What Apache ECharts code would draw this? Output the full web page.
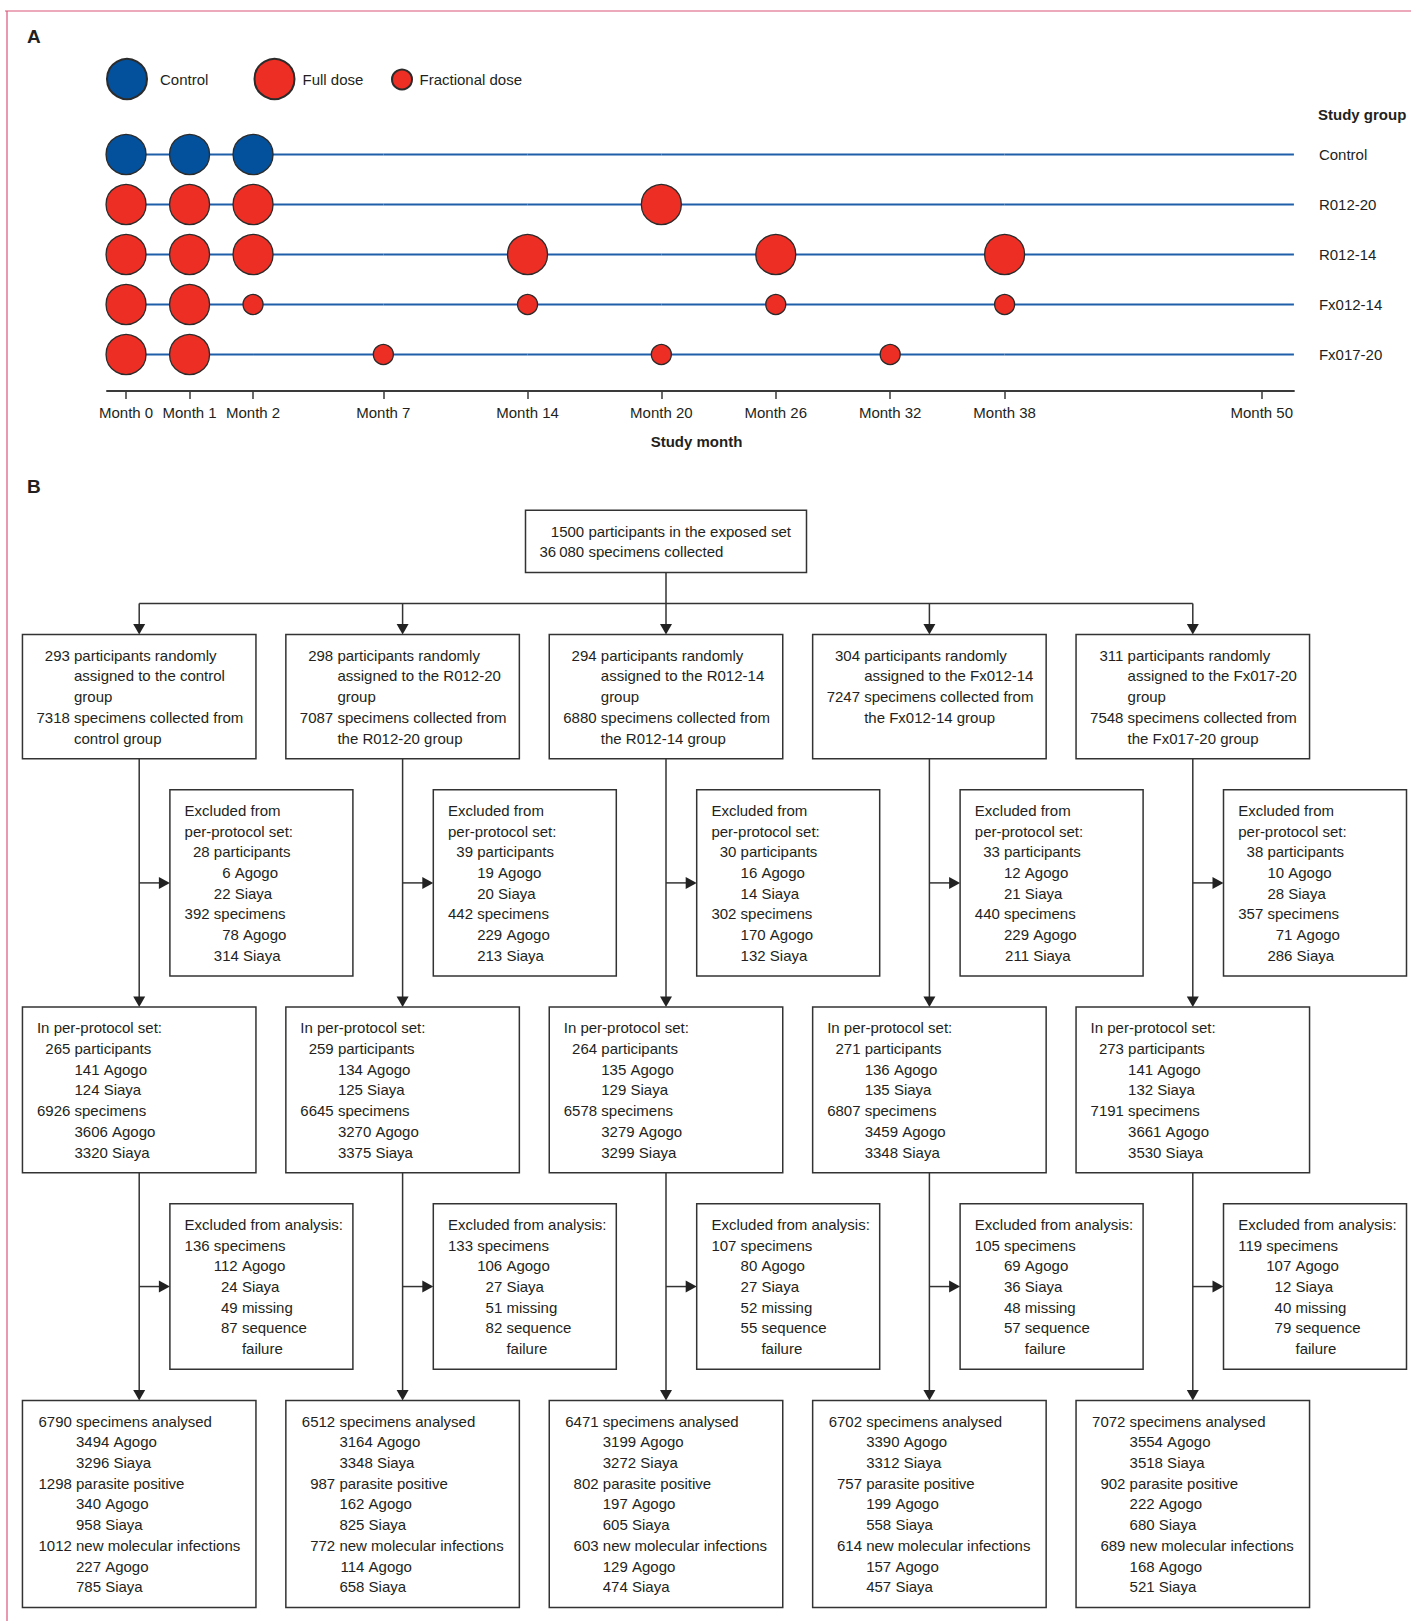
<!DOCTYPE html>
<html>
<head>
<meta charset="utf-8">
<title>Vaccination schedule and participant flow</title>
<script src="https://cdn.jsdelivr.net/npm/echarts@6.0.0/dist/echarts.min.js"></script>
<style>
  html, body { margin: 0; padding: 0; background: #ffffff; }
  #chart { width: 1411px; height: 1621px; }
</style>
</head>
<body>
<div id="chart"></div>
<script>
// ---------- Panel A: vaccination schedule ----------
const studyGroups = ['Control', 'R012-20', 'R012-14', 'Fx012-14', 'Fx017-20'];
const monthTicks = [0, 1, 2, 7, 14, 20, 26, 32, 38, 50];
const controlVisits = [['Control', 0], ['Control', 1], ['Control', 2]];
const fullDoseVisits = [
  ['R012-20', 0], ['R012-20', 1], ['R012-20', 2], ['R012-20', 20],
  ['R012-14', 0], ['R012-14', 1], ['R012-14', 2], ['R012-14', 14], ['R012-14', 26], ['R012-14', 38],
  ['Fx012-14', 0], ['Fx012-14', 1],
  ['Fx017-20', 0], ['Fx017-20', 1]
];
const fractionalDoseVisits = [
  ['Fx012-14', 2], ['Fx012-14', 14], ['Fx012-14', 26], ['Fx012-14', 38],
  ['Fx017-20', 7], ['Fx017-20', 20], ['Fx017-20', 32]
];

// ---------- Panel B: participant and specimen flow ----------
const exposedParticipants = 1500;
const exposedSpecimens = 36080;
const groupNames = ['control', 'R012-20', 'R012-14', 'Fx012-14', 'Fx017-20'];
const randomised = [293, 298, 294, 304, 311];
const collected = [7318, 7087, 6880, 7247, 7548];
const exclPpParticipants = [28, 39, 30, 33, 38];
const exclPpPartAgogo = [6, 19, 16, 12, 10];
const exclPpPartSiaya = [22, 20, 14, 21, 28];
const exclPpSpecimens = [392, 442, 302, 440, 357];
const exclPpSpecAgogo = [78, 229, 170, 229, 71];
const exclPpSpecSiaya = [314, 213, 132, 211, 286];
const ppParticipants = [265, 259, 264, 271, 273];
const ppPartAgogo = [141, 134, 135, 136, 141];
const ppPartSiaya = [124, 125, 129, 135, 132];
const ppSpecimens = [6926, 6645, 6578, 6807, 7191];
const ppSpecAgogo = [3606, 3270, 3279, 3459, 3661];
const ppSpecSiaya = [3320, 3375, 3299, 3348, 3530];
const exclAnSpecimens = [136, 133, 107, 105, 119];
const exclAnAgogo = [112, 106, 80, 69, 107];
const exclAnSiaya = [24, 27, 27, 36, 12];
const exclAnMissing = [49, 51, 52, 48, 40];
const exclAnSeqFail = [87, 82, 55, 57, 79];
const analysed = [6790, 6512, 6471, 6702, 7072];
const analysedAgogo = [3494, 3164, 3199, 3390, 3554];
const analysedSiaya = [3296, 3348, 3272, 3312, 3518];
const positive = [1298, 987, 802, 757, 902];
const positiveAgogo = [340, 162, 197, 199, 222];
const positiveSiaya = [958, 825, 605, 558, 680];
const newInfections = [1012, 772, 603, 614, 689];
const newInfAgogo = [227, 114, 129, 157, 168];
const newInfSiaya = [785, 658, 474, 457, 521];

// ---------- styling ----------
const FONT = '"Liberation Sans", Arial, sans-serif';
const FONT_SIZE = 15;
const INK = '#231f20';
const BLUE = '#03509c';
const RED = '#ed2e24';
const LINE_BLUE = '#1f5ea8';
const EDGE = '#2b2b2b';
const AXIS_INK = '#3a3a3a';
const BOX_INK = '#333333';
const FRAME = '#d9557a';

// The schedule axis is schematic: early months are stretched, so it is
// built from consecutive linear segments, each one its own grid/axis.
const axisStartPx = 107;
const axisSegments = [
  { from: -0.3, to: 2, pxPerMonth: 63.5 },
  { from: 2, to: 7, pxPerMonth: 26.06 },
  { from: 7, to: 14, pxPerMonth: 20.6 },
  { from: 14, to: 20, pxPerMonth: 22.3 },
  { from: 20, to: 38, pxPerMonth: 19.07 },
  { from: 38, to: 51.5, pxPerMonth: 21.43 }
];
const scheduleTop = 129.5;
const scheduleHeight = 250;
const axisOffset = 11.5;

const doseTypes = [
  { name: 'Control', visits: controlVisits, size: 40, color: BLUE },
  { name: 'Full dose', visits: fullDoseVisits, size: 40, color: RED },
  { name: 'Fractional dose', visits: fractionalDoseVisits, size: 20, color: RED }
];

const grids = [];
const xAxes = [];
const yAxes = [];
const series = [];

function firstVisit(group) {
  const months = [];
  doseTypes.forEach(d => d.visits.forEach(v => { if (v[0] === group) months.push(v[1]); }));
  return Math.min.apply(null, months);
}

let segLeft = axisStartPx;
axisSegments.forEach((seg, i) => {
  const width = (seg.to - seg.from) * seg.pxPerMonth;
  const isLast = i === axisSegments.length - 1;
  const inSeg = m => m >= seg.from && (isLast ? m <= seg.to : m < seg.to);
  const ticks = monthTicks.filter(inSeg);
  grids.push({ left: segLeft, top: scheduleTop, width: width, height: scheduleHeight, containLabel: false, outerBoundsMode: 'none' });
  segLeft += width;

  xAxes.push({
    gridIndex: i, type: 'value', min: seg.from, max: seg.to, position: 'bottom', offset: axisOffset,
    axisLine: { show: true, onZero: false, lineStyle: { color: AXIS_INK, width: 2 } },
    axisTick: { show: true, customValues: ticks, length: 8, lineStyle: { color: AXIS_INK, width: 1.5 } },
    axisLabel: {
      show: true, customValues: ticks, showMinLabel: true, showMaxLabel: true,
      formatter: v => 'Month ' + v, margin: 14, color: INK, fontSize: FONT_SIZE, fontFamily: FONT
    },
    splitLine: { show: false }
  });
  yAxes.push({
    gridIndex: i, type: 'category', data: studyGroups, inverse: true, show: isLast, position: 'right',
    axisLine: { show: false }, axisTick: { show: false }, splitLine: { show: false },
    axisLabel: { margin: 25, color: INK, fontSize: FONT_SIZE, fontFamily: FONT }
  });

  // horizontal follow-up line of each study group
  studyGroups.forEach(g => {
    const start = Math.max(seg.from, firstVisit(g));
    if (start >= seg.to) return;
    series.push({
      type: 'line', xAxisIndex: i, yAxisIndex: i, silent: true, z: 1,
      symbol: 'none', clip: false,
      lineStyle: { color: LINE_BLUE, width: 2 },
      data: [[start, g], [seg.to, g]]
    });
  });

  // vaccination visits
  doseTypes.forEach(d => {
    series.push({
      type: 'scatter', name: d.name, xAxisIndex: i, yAxisIndex: i, silent: true, z: 3, clip: false,
      symbol: 'circle', symbolSize: d.size,
      itemStyle: { color: d.color, borderColor: EDGE, borderWidth: 1.3, opacity: 1 },
      data: d.visits.filter(v => inSeg(v[1])).map(v => [v[1], v[0]])
    });
  });
});

// ---------- Panel B layout ----------
// vertical layout in text-line units, horizontal layout in study columns
const LINE_PX = 20.7;
const COL_PX = 263.4;
const flowLeft = 139.2 - COL_PX / 2;
const flowTop = 510.3;
const stageRows = [3, 6, 9, 8, 8, 10];     // box height in lines
const stageGaps = [3, 1.5, 1.5, 1.5, 1.5]; // gap below each stage
const stageBoxW = [281, 233.5, 183, 233.5, 183, 233.5];
const stagePadL = [14, 14, 14.7, 14.5, 14.7, 16];
const stageSide = [false, false, true, false, true, false];
const SIDE_OFFSET = 30.7;
const stageTop = [0];
for (let s = 1; s < stageRows.length; s++) stageTop.push(stageTop[s - 1] + stageRows[s - 1] + stageGaps[s - 1]);
const flowUnits = stageTop[stageTop.length - 1] + stageRows[stageRows.length - 1];

const measureCtx = document.createElement('canvas').getContext('2d');
measureCtx.font = FONT_SIZE + 'px ' + FONT;
const textW = s => measureCtx.measureText(s).width;
const fmt = n => n >= 10000 ? String(n).replace(/\B(?=(\d{3})+(?!\d))/g, '\u2009') : String(n);

// line kinds: 'h' heading, 'c' continuation, 0 main count, 1 sub count
function groupLines(c) {
  const rows = [[0, randomised[c], 'participants randomly'], ['c', 'assigned to the ' + groupNames[c]]];
  if (c !== 3) rows.push(['c', 'group']);
  rows.push([0, collected[c], 'specimens collected from']);
  rows.push(['c', c === 0 ? 'control group' : 'the ' + groupNames[c] + ' group']);
  return rows;
}
const exclPpLines = c => [
  ['h', 'Excluded from'], ['h', 'per-protocol set:'],
  [0, exclPpParticipants[c], 'participants'], [1, exclPpPartAgogo[c], 'Agogo'], [1, exclPpPartSiaya[c], 'Siaya'],
  [0, exclPpSpecimens[c], 'specimens'], [1, exclPpSpecAgogo[c], 'Agogo'], [1, exclPpSpecSiaya[c], 'Siaya']
];
const ppLines = c => [
  ['h', 'In per-protocol set:'],
  [0, ppParticipants[c], 'participants'], [1, ppPartAgogo[c], 'Agogo'], [1, ppPartSiaya[c], 'Siaya'],
  [0, ppSpecimens[c], 'specimens'], [1, ppSpecAgogo[c], 'Agogo'], [1, ppSpecSiaya[c], 'Siaya']
];
const exclAnLines = c => [
  ['h', 'Excluded from analysis:'],
  [0, exclAnSpecimens[c], 'specimens'], [1, exclAnAgogo[c], 'Agogo'], [1, exclAnSiaya[c], 'Siaya'],
  [1, exclAnMissing[c], 'missing'], [1, exclAnSeqFail[c], 'sequence'], ['c', 'failure']
];
const finalLines = c => [
  [0, analysed[c], 'specimens analysed'], [1, analysedAgogo[c], 'Agogo'], [1, analysedSiaya[c], 'Siaya'],
  [0, positive[c], 'parasite positive'], [1, positiveAgogo[c], 'Agogo'], [1, positiveSiaya[c], 'Siaya'],
  [0, newInfections[c], 'new molecular infections'], [1, newInfAgogo[c], 'Agogo'], [1, newInfSiaya[c], 'Siaya']
];

// numbers are right-aligned within their level; sub-counts hang from the parent's text column
function layoutLines(lines, padL) {
  const sp = textW(' ');
  const main = lines.filter(l => l[0] === 0).map(l => textW(fmt(l[1])));
  const r0 = padL + (main.length ? Math.max.apply(null, main) : 0);
  const col0 = r0 + sp;
  const out = [];
  let lastX = padL;
  lines.forEach((l, i) => {
    if (l[0] === 'h') { out.push({ x: padL, text: l[1] }); lastX = padL; }
    else if (l[0] === 'c') { out.push({ x: lastX, text: l[1] }); }
    else if (l[0] === 0) { out.push({ xr: r0, num: fmt(l[1]), x: col0, text: l[2] }); lastX = col0; }
    else {
      let j = i; while (j > 0 && lines[j - 1][0] === 1) j--;
      let k = i; while (k < lines.length - 1 && lines[k + 1][0] === 1) k++;
      let wMax = 0;
      for (let m = j; m <= k; m++) wMax = Math.max(wMax, textW(fmt(lines[m][1])));
      const r1 = col0 + wMax;
      out.push({ xr: r1, num: fmt(l[1]), x: r1 + sp, text: l[2] });
      lastX = r1 + sp;
    }
  });
  return out;
}

const flowBoxes = [{ col: 2, stage: 0, lines: [[0, exposedParticipants, 'participants in the exposed set'], [0, exposedSpecimens, 'specimens collected']] }];
const stageBuilders = [null, groupLines, exclPpLines, ppLines, exclAnLines, finalLines];
for (let c = 0; c < 5; c++) {
  for (let s = 1; s < stageBuilders.length; s++) flowBoxes.push({ col: c, stage: s, lines: stageBuilders[s](c) });
}
flowBoxes.forEach(b => { b.layout = layoutLines(b.lines, stagePadL[b.stage]); });

// connectors
const busY = stageTop[0] + stageRows[0] + stageGaps[0] / 2;
const connectors = [
  { x0: 2, y0: stageTop[0] + stageRows[0], x1: 2, y1: busY },
  { x0: 0, y0: busY, x1: 4, y1: busY }
];
for (let c = 0; c < 5; c++) {
  connectors.push({ x0: c, y0: busY, x1: c, y1: stageTop[1], arrow: true });
  connectors.push({ x0: c, y0: stageTop[1] + stageRows[1], x1: c, y1: stageTop[3], arrow: true });
  connectors.push({ x0: c, y0: stageTop[2] + stageRows[2] / 2, side: true, arrow: true });
  connectors.push({ x0: c, y0: stageTop[3] + stageRows[3], x1: c, y1: stageTop[5], arrow: true });
  connectors.push({ x0: c, y0: stageTop[4] + stageRows[4] / 2, side: true, arrow: true });
}

function textEl(x, y, text, align, weight) {
  return {
    type: 'text', x: x, y: y, silent: true,
    style: { text: text, fill: INK, fontSize: FONT_SIZE, fontFamily: FONT, fontWeight: weight || 'normal', align: align, verticalAlign: 'middle' }
  };
}

function renderBox(params, api) {
  const b = flowBoxes[params.dataIndex];
  const top = api.coord([b.col, stageTop[b.stage]]);
  const bottom = api.coord([b.col, stageTop[b.stage] + stageRows[b.stage]])[1];
  const w = stageBoxW[b.stage];
  const left = stageSide[b.stage] ? top[0] + SIDE_OFFSET : top[0] - w / 2;
  const children = [{
    type: 'rect', shape: { x: left, y: top[1], width: w, height: bottom - top[1] },
    style: { fill: '#ffffff', stroke: BOX_INK, lineWidth: 1.5 }
  }];
  b.layout.forEach((ln, i) => {
    const y = api.coord([b.col, stageTop[b.stage] + 1 + i])[1];
    if (ln.num != null) children.push(textEl(left + ln.xr, y, ln.num, 'right'));
    children.push(textEl(left + ln.x, y, ln.text, 'left'));
  });
  return { type: 'group', children: children };
}

function renderConnector(params, api) {
  const cn = connectors[params.dataIndex];
  const p0 = api.coord([cn.x0, cn.y0]);
  const p1 = cn.side ? [p0[0] + SIDE_OFFSET, p0[1]] : api.coord([cn.x1, cn.y1]);
  const vertical = !cn.side && Math.abs(p1[0] - p0[0]) < 0.5;
  const end = p1.slice();
  const children = [];
  if (cn.arrow) {
    if (vertical) end[1] -= 9; else end[0] -= 9;
  }
  children.push({ type: 'line', shape: { x1: p0[0], y1: p0[1], x2: end[0], y2: end[1] }, style: { stroke: BOX_INK, lineWidth: 1.5 } });
  if (cn.arrow) {
    const pts = vertical
      ? [[p1[0], p1[1]], [p1[0] - 6, p1[1] - 10.5], [p1[0] + 6, p1[1] - 10.5]]
      : [[p1[0], p1[1]], [p1[0] - 11, p1[1] - 6], [p1[0] - 11, p1[1] + 6]];
    children.push({ type: 'polygon', shape: { points: pts }, style: { fill: '#222222' } });
  }
  return { type: 'group', children: children };
}

const flowGrid = grids.length;
grids.push({ left: flowLeft, top: flowTop, width: COL_PX * 5, height: flowUnits * LINE_PX, containLabel: false, outerBoundsMode: 'none' });
xAxes.push({ gridIndex: flowGrid, type: 'value', min: -0.5, max: 4.5, show: false });
yAxes.push({ gridIndex: flowGrid, type: 'value', min: 0, max: flowUnits, inverse: true, show: false });

series.push({
  type: 'custom', xAxisIndex: flowGrid, yAxisIndex: flowGrid, silent: true, z: 2,
  renderItem: renderConnector,
  data: connectors.map(cn => [cn.x0, cn.y0])
});
series.push({
  type: 'custom', xAxisIndex: flowGrid, yAxisIndex: flowGrid, silent: true, z: 3,
  renderItem: renderBox,
  data: flowBoxes.map(b => [b.col, stageTop[b.stage]])
});

const legendText = pad => ({ color: INK, fontSize: FONT_SIZE, fontFamily: FONT, padding: [0, 0, 0, pad] });

const option = {
  animation: false,
  backgroundColor: '#ffffff',
  textStyle: { fontFamily: FONT, color: INK },
  grid: grids,
  xAxis: xAxes,
  yAxis: yAxes,
  legend: [
    { data: ['Control'], left: 106, top: 58, padding: 0, icon: 'circle', itemWidth: 40, itemHeight: 40, selectedMode: false, textStyle: legendText(8) },
    { data: ['Full dose'], left: 253.5, top: 58, padding: 0, icon: 'circle', itemWidth: 40, itemHeight: 40, selectedMode: false, textStyle: legendText(3) },
    { data: ['Fractional dose'], left: 391, top: 68.5, padding: 0, icon: 'circle', itemWidth: 20, itemHeight: 20, selectedMode: false, textStyle: legendText(2.5) }
  ],
  graphic: [
    { type: 'line', silent: true, shape: { x1: 5, y1: 11, x2: 1411, y2: 11 }, style: { stroke: FRAME, lineWidth: 1.2 } },
    { type: 'line', silent: true, shape: { x1: 7, y1: 11, x2: 7, y2: 1621 }, style: { stroke: FRAME, lineWidth: 1.2 } },
    { type: 'text', silent: true, x: 27, y: 36.5, style: { text: 'A', fill: INK, fontSize: 19, fontWeight: 'bold', fontFamily: FONT, align: 'left', verticalAlign: 'middle' } },
    { type: 'text', silent: true, x: 27, y: 486, style: { text: 'B', fill: INK, fontSize: 19, fontWeight: 'bold', fontFamily: FONT, align: 'left', verticalAlign: 'middle' } },
    { type: 'text', silent: true, x: 1318, y: 114.3, style: { text: 'Study group', fill: INK, fontSize: FONT_SIZE, fontWeight: 'bold', fontFamily: FONT, align: 'left', verticalAlign: 'middle' } },
    { type: 'text', silent: true, x: 696.5, y: 441.7, style: { text: 'Study month', fill: INK, fontSize: FONT_SIZE, fontWeight: 'bold', fontFamily: FONT, align: 'center', verticalAlign: 'middle' } }
  ],
  series: series
};

const chart = echarts.init(document.getElementById('chart'), null, { renderer: 'svg', width: 1411, height: 1621 });
chart.setOption(option);
</script>
</body>
</html>
